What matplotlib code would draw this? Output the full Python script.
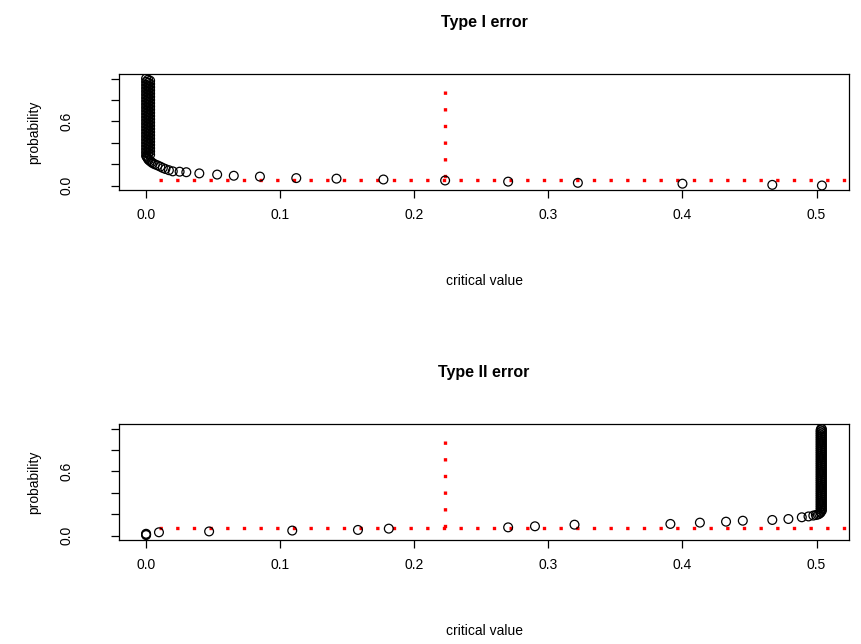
import matplotlib
matplotlib.use("Agg")
import matplotlib.pyplot as plt

plt.rcParams['font.family'] = ['Liberation Sans', 'DejaVu Sans']

# ---------------- data ----------------
# Type I error: dense vertical band near critical value 0, then tail
t1_band_y = [1.00, 0.99, 0.98, 0.97, 0.96, 0.95, 0.94, 0.93, 0.92, 0.91,
             0.90, 0.89, 0.88, 0.87, 0.86, 0.85, 0.84, 0.83, 0.82, 0.81,
             0.80, 0.79, 0.78, 0.77, 0.76, 0.75, 0.74, 0.73, 0.72, 0.71,
             0.70, 0.69, 0.68, 0.67, 0.66, 0.65, 0.64, 0.63, 0.62, 0.61,
             0.60, 0.59, 0.58, 0.57, 0.56, 0.55, 0.54, 0.53, 0.52, 0.51,
             0.50, 0.49, 0.48, 0.47, 0.46, 0.45, 0.44, 0.43, 0.42, 0.41,
             0.40, 0.39, 0.38, 0.37, 0.36, 0.35, 0.34, 0.33, 0.32, 0.31,
             0.30, 0.29, 0.28]
t1_band_x = [0.000, 0.0015, 0.003] * 24 + [0.000]
t1_tail_x = [0.0005, 0.001, 0.0015, 0.002, 0.003, 0.004, 0.005, 0.0065,
             0.0085, 0.0106, 0.0125, 0.0144, 0.017,
             0.0199, 0.025, 0.030, 0.0397, 0.053, 0.0654, 0.0849, 0.112, 0.142,
             0.177, 0.223, 0.270, 0.322, 0.400, 0.467, 0.504]
t1_tail_y = [0.27, 0.26, 0.25, 0.24, 0.23, 0.22, 0.21, 0.20,
             0.19, 0.178, 0.166, 0.156, 0.145,
             0.134, 0.131, 0.126, 0.115, 0.104, 0.093, 0.085, 0.071, 0.066,
             0.058, 0.049, 0.038, 0.027, 0.019, 0.008, 0.002]

# Type II error: rises slowly, then dense vertical band near 0.503
t2_tail_x = [0.000, 0.000, 0.000, 0.0096, 0.047, 0.109, 0.158, 0.181, 0.270, 0.290,
             0.3195, 0.391, 0.413, 0.4325, 0.445, 0.467, 0.479, 0.489, 0.494, 0.4976,
             0.4995, 0.501, 0.502, 0.503]
t2_tail_y = [0.006, 0.012, 0.018, 0.032, 0.040, 0.048, 0.054, 0.066, 0.078, 0.088,
             0.103, 0.110, 0.122, 0.131, 0.140, 0.147, 0.156, 0.172, 0.180, 0.188,
             0.193, 0.198, 0.205, 0.215]
t2_band_y = [0.225, 0.235, 0.245, 0.255, 0.265, 0.275, 0.285, 0.295, 0.305, 0.315,
             0.325, 0.335, 0.345, 0.355, 0.365, 0.375, 0.385, 0.395, 0.405, 0.415,
             0.425, 0.435, 0.445, 0.455, 0.465, 0.475, 0.485, 0.495, 0.505, 0.515,
             0.525, 0.535, 0.545, 0.555, 0.565, 0.575, 0.585, 0.595, 0.605, 0.615,
             0.625, 0.635, 0.645, 0.655, 0.665, 0.675, 0.685, 0.695, 0.705, 0.715,
             0.725, 0.735, 0.745, 0.755, 0.765, 0.775, 0.785, 0.795, 0.805, 0.815,
             0.825, 0.835, 0.845, 0.855, 0.865, 0.875, 0.885, 0.895, 0.905, 0.915,
             0.925, 0.935, 0.945, 0.955, 0.965, 0.975, 0.985, 0.995, 1.000]
t2_band_x = [0.5030, 0.5040] * 39 + [0.5035]

crit_value = 0.223
alpha_level = 0.05
beta_level = 0.07
vline_top = 0.88
hline_start = 0.01
hline_end = 0.525

titles = ["Type I error", "Type II error"]
xlabel = "critical value"
ylabel = "probability"
xticks = [0.0, 0.1, 0.2, 0.3, 0.4, 0.5]
xticklabels = ["0.0", "0.1", "0.2", "0.3", "0.4", "0.5"]
yticks = [0.0, 0.2, 0.4, 0.6, 0.8, 1.0]
yticklabels = ["0.0", "", "", "0.6", "", ""]

# ---------------- figure ----------------
W, H = 861, 644
fig = plt.figure(figsize=(W / 100, H / 100), dpi=100)

panels = [
    (t1_band_x + t1_tail_x, t1_band_y + t1_tail_y, alpha_level, 74.3, 190.0),
    (t2_tail_x + t2_band_x, t2_tail_y + t2_band_y, beta_level, 424.3, 540.0),
]
dot_style = (0, (1, 4.0))

for i, (xs, ys, hl, top_px, bot_px) in enumerate(panels):
    left_px, right_px = 119, 849
    ax = fig.add_axes([left_px / W, 1 - bot_px / H,
                       (right_px - left_px) / W, (bot_px - top_px) / H])
    ax.scatter(xs, ys, s=40, facecolors='none', edgecolors='black',
               linewidths=0.9, zorder=3)
    ax.plot([crit_value, crit_value], [vline_top, 0.0], color='red',
            lw=2.4, linestyle=dot_style, zorder=2)
    ax.plot([hline_start, hline_end], [hl, hl], color='red',
            lw=2.4, linestyle=dot_style, zorder=2)
    ax.set_xlim(-0.0202, 0.5242)
    ax.set_ylim(-0.04, 1.04)
    ax.set_xticks(xticks)
    ax.set_xticklabels(xticklabels)
    ax.set_yticks(yticks)
    ax.set_yticklabels(yticklabels, rotation=90, va='center', ha='center')
    ax.tick_params(axis='both', direction='out', length=6, width=0.9,
                   labelsize=10, color='black')
    ax.tick_params(axis='x', pad=7)
    ax.tick_params(axis='y', pad=32)
    for sp in ax.spines.values():
        sp.set_linewidth(0.9)
    cx = (left_px + right_px) / 2 / W
    fig.text(cx, 1 - (top_px - 52) / H, titles[i], ha='center', va='center',
             fontsize=11.5, fontweight='bold')
    fig.text(cx, 1 - (bot_px + 91) / H, xlabel, ha='center', va='center',
             fontsize=10)
    fig.text(34 / W, 1 - ((top_px + bot_px) / 2) / H, ylabel, ha='center',
             va='center', rotation=90, fontsize=10)

fig.savefig("out.png", dpi=100)
